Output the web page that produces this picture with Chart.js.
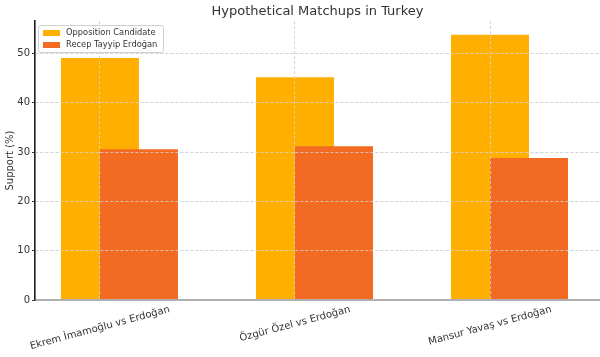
<!DOCTYPE html>
<html>
<head>
<meta charset="utf-8">
<script src="https://cdn.jsdelivr.net/npm/chart.js@4/dist/chart.umd.min.js"></script>
<style>
  html, body { margin: 0; padding: 0; background: #ffffff; }
  canvas { display: block; }
</style>
</head>
<body>
<canvas id="c" width="600" height="357"></canvas>
<script>
// ---- data ----
const categories = ["Ekrem İmamoğlu vs Erdoğan", "Özgür Özel vs Erdoğan", "Mansur Yavaş vs Erdoğan"];
const seriesNames = ["Opposition Candidate", "Recep Tayyip Erdoğan"];
const oppositionValues = [49.1, 45.2, 53.8];
const erdoganValues = [30.6, 31.2, 28.8];
const yTicks = [0, 10, 20, 30, 40, 50];

// ---- style / layout constants ----
const colors = ["#FFAF00", "#F36A22"];
const barOffset = 0.2;      // second series shifted right by half a bar width
const textColor = "#333333";
const gridColor = "#d4d4d4";

Chart.defaults.font.family = "'DejaVu Sans', sans-serif";
Chart.defaults.color = textColor;

const gridOnTop = {
  id: "gridOnTop",
  afterDatasetsDraw(chart) {
    const area = chart.chartArea;
    ["x", "y"].forEach(k => { chart.scales[k].drawGrid(area); });
    ["x", "y"].forEach(k => { chart.scales[k].drawBorder(); });
  }
};

const customText = {
  id: "customText",
  afterDraw(chart) {
    const ctx = chart.ctx;
    const xs = chart.scales.x;
    const area = chart.chartArea;
    // rotated category labels, centred under their ticks
    ctx.save();
    ctx.font = "10px 'DejaVu Sans', sans-serif";
    ctx.fillStyle = textColor;
    const ang = 15 * Math.PI / 180;
    categories.forEach((lab, i) => {
      const w = ctx.measureText(lab).width;
      const h = 11;
      const bboxH = w * Math.sin(ang) + h * Math.cos(ang);
      const cx = xs.getPixelForValue(i);
      const cy = area.bottom + 4 + bboxH / 2;
      ctx.save();
      ctx.translate(cx, cy);
      ctx.rotate(-ang);
      ctx.textAlign = "center";
      ctx.textBaseline = "middle";
      ctx.fillText(lab, 0, 0);
      ctx.restore();
    });
    ctx.restore();

    // legend box in upper-left of the plot area
    ctx.save();
    const lx = area.left + 3, ly = area.top + 4, lw = 125, lh = 27;
    ctx.fillStyle = "rgba(255,255,255,0.85)";
    ctx.strokeStyle = "#d0d0d0";
    ctx.lineWidth = 1;
    ctx.beginPath();
    ctx.roundRect(lx + 0.5, ly + 0.5, lw, lh, 2);
    ctx.fill();
    ctx.stroke();
    ctx.font = "8.3px 'DejaVu Sans', sans-serif";
    ctx.textBaseline = "middle";
    ctx.textAlign = "left";
    chart.data.datasets.slice().sort((a, b) => a.legendIndex - b.legendIndex).forEach((ds, i) => {
      const yy = ly + 8 + i * 12;
      ctx.fillStyle = ds.backgroundColor;
      ctx.fillRect(lx + 5, yy - 3, 17, 6);
      ctx.fillStyle = textColor;
      ctx.fillText(ds.label, lx + 28, yy);
    });
    ctx.restore();
  }
};

new Chart(document.getElementById("c"), {
  type: "bar",
  data: {
    datasets: [
      {
        label: seriesNames[1],
        legendIndex: 1,
        data: erdoganValues.map((v, i) => ({ x: i + barOffset, y: v })),
        backgroundColor: colors[1],
        order: 0
      },
      {
        label: seriesNames[0],
        legendIndex: 0,
        data: oppositionValues.map((v, i) => ({ x: i, y: v })),
        backgroundColor: colors[0],
        order: 1
      }
    ]
  },
  options: {
    responsive: false,
    devicePixelRatio: 1,
    animation: false,
    grouped: false,
    categoryPercentage: 1,
    barPercentage: 2,
    layout: { padding: { left: 0, right: 0, top: 0, bottom: 0 } },
    plugins: {
      legend: { display: false },
      tooltip: { enabled: false },
      title: {
        display: true,
        text: "Hypothetical Matchups in Turkey",
        fullSize: false,
        color: textColor,
        font: { size: 13, weight: "normal" },
        padding: { top: 4, bottom: 1.4 }
      }
    },
    scales: {
      x: {
        type: "linear",
        offset: false,
        min: -0.333,
        max: 2.564,
        afterBuildTicks(s) { s.ticks = categories.map((_, i) => ({ value: i })); },
        afterFit(s) { s.height = 57; },
        ticks: { display: false },
        grid: {
          offset: false,
          color: gridColor,
          lineWidth: 0.8,
          drawTicks: false
        },
        border: { display: true, color: "#b0b0b0", width: 2, dash: [3, 2] }
      },
      y: {
        min: 0,
        max: 56.6,
        afterBuildTicks(s) { s.ticks = yTicks.map(v => ({ value: v })); },
        afterFit(s) { s.width = 35; },
        ticks: { font: { size: 10 }, color: textColor, padding: 2 },
        grid: {
          color: gridColor,
          lineWidth: 0.8,
          drawTicks: true,
          tickLength: 3,
          tickColor: "#333",
          tickBorderDash: []
        },
        border: { display: true, color: "#222", width: 1.4, dash: [3, 2] },
        title: { display: true, text: "Support (%)", font: { size: 10 }, color: textColor, padding: { top: 4, bottom: 0 } }
      }
    }
  },
  plugins: [gridOnTop, customText]
});
</script>
</body>
</html>
